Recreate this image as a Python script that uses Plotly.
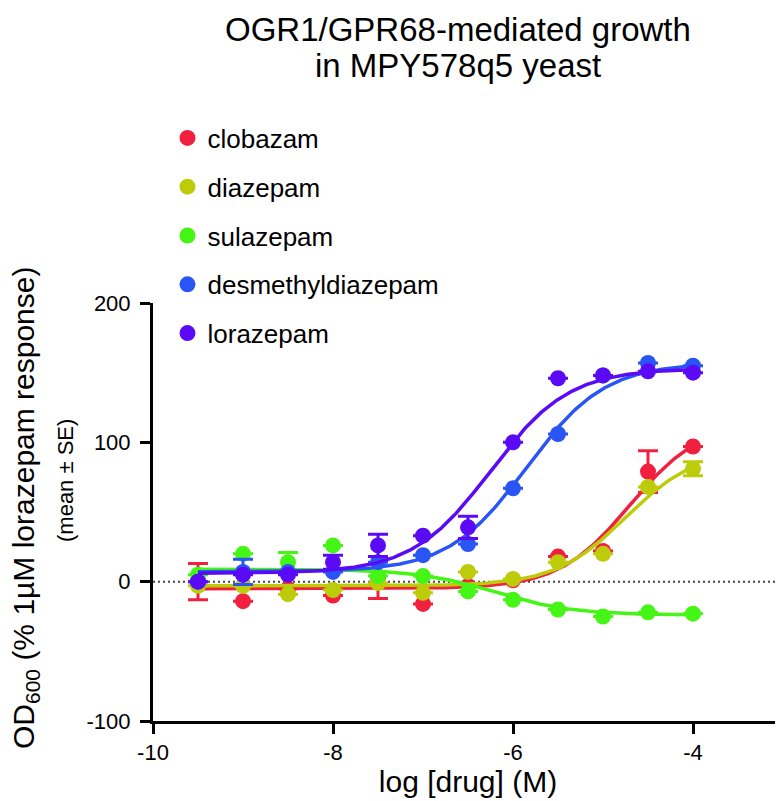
import numpy as np
import plotly.graph_objects as go

# ---- data ----
log_conc = [-9.5, -9, -8.5, -8, -7.5, -7, -6.5, -6, -5.5, -5, -4.5, -4]

names = ["clobazam", "diazepam", "sulazepam", "desmethyldiazepam", "lorazepam"]
colors = ["#F2203F", "#BDCC0A", "#45F515", "#2A55F5", "#5A0AF5"]

clobazam = [0, -14, -5, -10, 3, -16, -3, 1, 18, 22, 79, 97]
diazepam = [-3, -3, -9, -6, -1, -8, 7, 2, 14, 20, 68, 81]
sulazepam = [5, 20, 14, 26, 4, 4, -7, -13, -20, -25, -22, -23]
desmethyldiazepam = [0, 7, 7, 7, 14, 19, 27, 67, 106, 148, 157, 155]
lorazepam = [0, 5, 5, 14, 26, 33, 39, 100, 146, 148, 151, 150]

# standard errors (None = too small to show beyond the marker)
clobazam_se = [13, None, None, None, 15, None, None, None, None, None, 15, None]
diazepam_se = [None, None, None, None, None, None, None, None, None, None, None, 5]
sulazepam_se = [None, None, 7, None, None, None, None, None, None, None, None, None]
desmethyldiazepam_se = [None, 9, None, None, None, None, None, None, None, None, None, None]
lorazepam_se = [None, None, None, 5, 8, None, 8, None, None, None, None, None]

# four-parameter logistic fit parameters: [left plateau, right plateau, logEC50, hill]
clobazam_fit = [-5, 115, -4.7, 1.1]
diazepam_fit = [-3, 95, -4.75, 1.1]
sulazepam_fit = [9, -24, -6.2, 1.0]
desmethyldiazepam_fit = [7, 157, -5.85, 1.0]
lorazepam_fit = [6, 153, -6.25, 1.0]

x_ticks = [-10, -8, -6, -4]
y_ticks = [-100, 0, 100, 200]

series = [clobazam, diazepam, sulazepam, desmethyldiazepam, lorazepam]
errors = [clobazam_se, diazepam_se, sulazepam_se, desmethyldiazepam_se, lorazepam_se]
fits = [clobazam_fit, diazepam_fit, sulazepam_fit, desmethyldiazepam_fit, lorazepam_fit]

FONT = "Liberation Sans"

fig = go.Figure()
xfit = np.linspace(min(log_conc), max(log_conc), 300)
for name, col, ys, se, p in zip(names, colors, series, errors, fits):
    left, right, ec50, hill = p
    yfit = left + (right - left) / (1 + 10 ** ((ec50 - xfit) * hill))
    fig.add_trace(go.Scatter(
        x=xfit, y=yfit, mode="lines", line=dict(color=col, width=3.5),
        legendgroup=name, showlegend=False, hoverinfo="skip"))
    fig.add_trace(go.Scatter(
        x=log_conc, y=ys, mode="markers", name=name, legendgroup=name,
        marker=dict(color=col, size=16, line=dict(width=0)),
        error_y=dict(type="data", array=[np.nan if v is None else v for v in se],
                     color=col, thickness=3, width=10)))

fig.add_shape(type="line", xref="x", yref="y", x0=-10, x1=-3, y0=0, y1=0,
              line=dict(color="#444444", width=2, dash="2px,3px"), layer="below")

axis_common = dict(
    showline=True, linecolor="black", linewidth=3,
    ticks="outside", ticklen=10, tickwidth=3, tickcolor="black",
    showgrid=False, zeroline=False, automargin=False,
    tickfont=dict(family=FONT, size=22, color="black"),
)

# titles (placed as text in paper coordinates; plot area spans 145..775 x 295..713 px)
annotations = [
    dict(text="OGR1/GPR68-mediated growth", x=(450 - 145) / 630, y=(713 - 21) / 418,
         font=dict(family=FONT, size=33, color="black")),
    dict(text="in MPY578q5 yeast", x=(450 - 145) / 630, y=(713 - 57) / 418,
         font=dict(family=FONT, size=33, color="black")),
    dict(text="OD<sub>600</sub> (% 1µM lorazepam response)", x=(17 - 145) / 630,
         y=(713 - 500) / 418, textangle=-90,
         font=dict(family=FONT, size=30, color="black")),
    dict(text="(mean ± SE)", x=(57 - 145) / 630, y=(713 - 473) / 418, textangle=-90,
         font=dict(family=FONT, size=22, color="black")),
]
for a in annotations:
    a.update(xref="paper", yref="paper", xanchor="center", yanchor="middle",
             showarrow=False)

fig.update_layout(
    width=783, height=801,
    margin=dict(l=145, r=8, t=295, b=88),
    paper_bgcolor="white", plot_bgcolor="white",
    font=dict(family=FONT, color="black"),
    annotations=annotations,
    xaxis=dict(range=[-10, -3], tickvals=x_ticks, ticktext=[str(v) for v in x_ticks],
               title=dict(text="log [drug] (M)", font=dict(family=FONT, size=30), standoff=5),
               **axis_common),
    yaxis=dict(range=[-100, 200], tickvals=y_ticks, ticktext=[str(v) for v in y_ticks],
               ticklabelstandoff=5, **axis_common),
    legend=dict(x=0.023, xanchor="left", y=1.451, yanchor="top",
                font=dict(family=FONT, size=26, color="black"),
                tracegroupgap=12, bgcolor="rgba(0,0,0,0)", itemsizing="trace"),
    showlegend=True,
)

fig.write_html("out.html")
